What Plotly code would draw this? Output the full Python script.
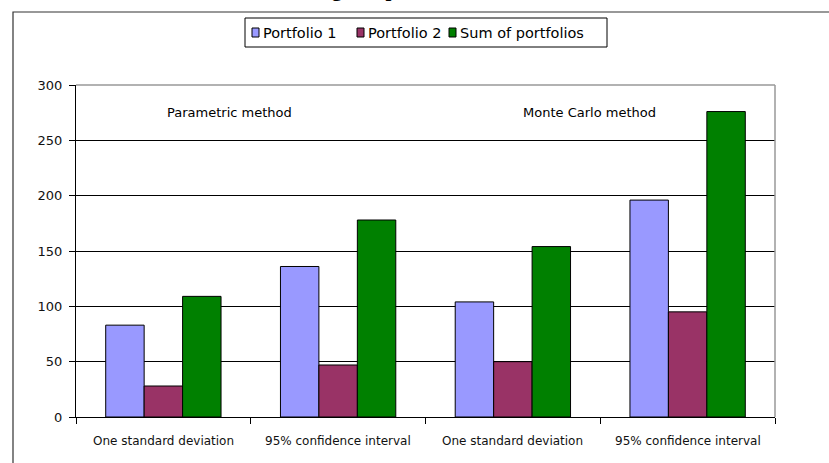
import plotly.graph_objects as go

# Chart data
categories = ["One standard deviation", "95% confidence interval",
              "One standard deviation", "95% confidence interval"]
portfolio_1 = [83, 136, 104, 196]
portfolio_2 = [28, 47, 50, 95]
sum_of_portfolios = [109, 178, 154, 276]
series_names = ["Portfolio 1", "Portfolio 2", "Sum of portfolios"]
series_colors = ["#9999FF", "#993366", "#008000"]
y_ticks = [0, 50, 100, 150, 200, 250, 300]

W, H = 829, 463
L, R, T, B = 76, 54, 85, 46
PW, PH = W - L - R, H - T - B

FONT = "DejaVu Sans, Verdana, sans-serif"


def px_x(px):
    return (px - L) / PW


def px_y(py):
    return 1 + (T - py) / PH


xpos = list(range(len(categories)))
boundaries = [i - 0.5 for i in range(len(categories) + 1)]
fig = go.Figure()
for name, vals, col in zip(series_names, [portfolio_1, portfolio_2, sum_of_portfolios], series_colors):
    fig.add_trace(go.Bar(x=xpos, y=vals, name=name, marker=dict(color=col, line=dict(color="black", width=1)),
                         showlegend=False))

shapes = []
annotations = []

# outer chart frame
shapes.append(dict(type="rect", xref="paper", yref="paper", x0=px_x(13), x1=px_x(900),
                   y0=px_y(520), y1=px_y(12), line=dict(color="#333333", width=1.2), layer="below"))
# plot area border (grey top and right)
shapes.append(dict(type="line", xref="paper", yref="paper", x0=0, x1=1, y0=1, y1=1,
                   line=dict(color="#999999", width=1.5), layer="above"))
shapes.append(dict(type="line", xref="paper", yref="paper", x0=1, x1=1, y0=0, y1=1,
                   line=dict(color="#999999", width=1.5), layer="above"))

# legend box
shapes.append(dict(type="rect", xref="paper", yref="paper", x0=px_x(245), x1=px_x(607),
                   y0=px_y(47), y1=px_y(18), line=dict(color="black", width=1), fillcolor="white"))
legend_items = [(252, 263), (357, 368), (449, 460)]
for (mx, tx), name, col in zip(legend_items, series_names, series_colors):
    shapes.append(dict(type="rect", xref="paper", yref="paper", x0=px_x(mx), x1=px_x(mx + 7),
                       y0=px_y(37), y1=px_y(28), line=dict(color="black", width=1), fillcolor=col))
    annotations.append(dict(xref="paper", yref="paper", x=px_x(tx - 2), y=px_y(33), text=name,
                            showarrow=False, xanchor="left", yanchor="middle",
                            font=dict(family=FONT, size=14.5, color="black")))

# category labels, centred under each group
for xv, label in zip(xpos, categories):
    annotations.append(dict(x=xv, y=0, xref="x", yref="paper", yanchor="top", yshift=-15,
                            text=label, showarrow=False,
                            font=dict(family=FONT, size=12, color="#111111")))

# method labels
annotations.append(dict(x=0.376, y=275.6, xref="x", yref="y", text="Parametric method", showarrow=False,
                        font=dict(family=FONT, size=13, color="black")))
annotations.append(dict(x=2.44, y=275.6, xref="x", yref="y", text="Monte Carlo method", showarrow=False,
                        font=dict(family=FONT, size=13, color="black")))

# chart title, sitting at the top edge of the page
annotations.append(dict(xref="paper", yref="paper", x=px_x(357), y=px_y(3), yanchor="bottom",
                        xanchor="center", text="<b>Combining two portfolios</b>", showarrow=False,
                        font=dict(family="Liberation Serif, Times New Roman, serif", size=21, color="black")))

fig.update_layout(
    width=W, height=H,
    margin=dict(l=L, r=R, t=T, b=B, pad=0),
    paper_bgcolor="white", plot_bgcolor="white",
    barmode="group", bargap=0.34, bargroupgap=0,
    shapes=shapes, annotations=annotations,
    showlegend=False,
    font=dict(family=FONT, size=12, color="#111111"),
    # x axis: line and category boundary ticks
    xaxis=dict(range=[-0.5, 3.5], tickvals=boundaries, ticktext=[""] * len(boundaries),
               ticks="outside", ticklen=6, tickcolor="black", tickwidth=1,
               showline=True, linecolor="black", linewidth=1, showgrid=False, zeroline=False,
               fixedrange=True),
    yaxis=dict(range=[0, 300], tickvals=y_ticks, ticks="outside", ticklen=6, tickcolor="black",
               showline=True, linecolor="black", linewidth=1, showgrid=True, gridcolor="black",
               gridwidth=1, zeroline=False, tickfont=dict(family=FONT, size=13, color="#111111"),
               ticklabelstandoff=4, fixedrange=True),
)

fig.write_html("out.html")
